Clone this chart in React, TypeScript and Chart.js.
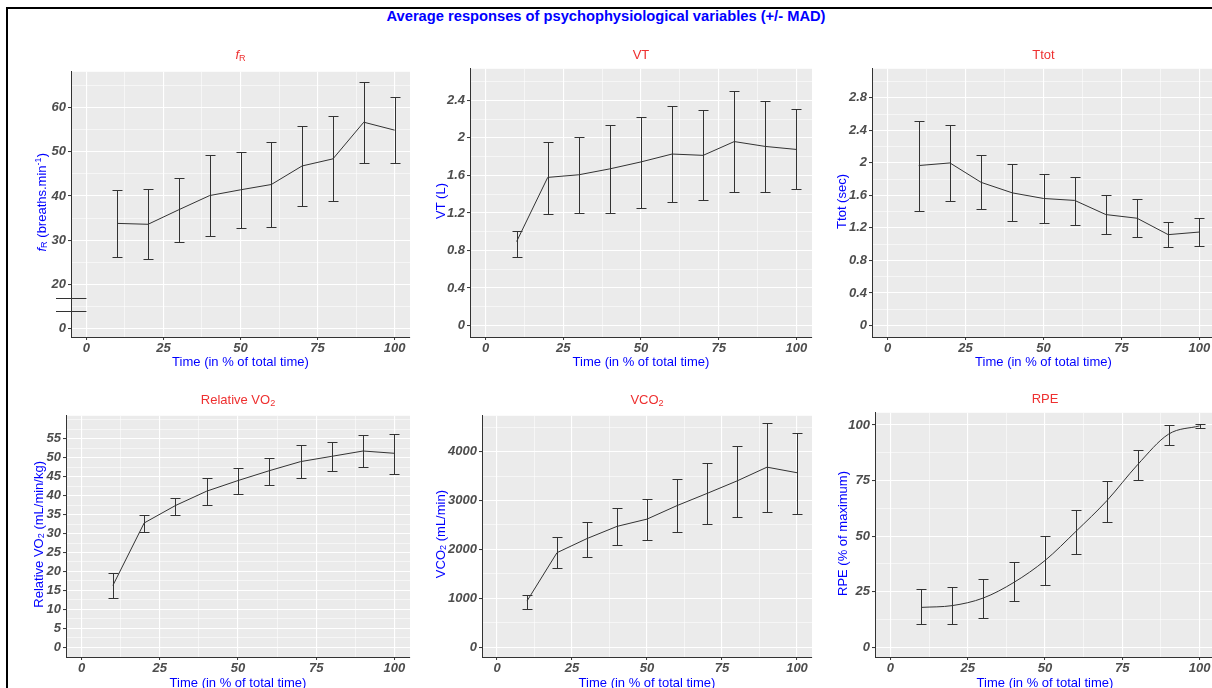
import React, { useEffect, useRef } from 'react';
import { Chart, registerables } from 'chart.js';
Chart.register(...registerables);

// ---------------- DATA ----------------
const timePoints = [10, 20, 30, 40, 50, 60, 70, 80, 90, 100];

const fRMean = [33.8, 33.6, 36.9, 40.1, 41.4, 42.6, 46.8, 48.4, 56.7, 54.9];
const fRUpper = [41.4, 41.6, 44.0, 49.2, 49.9, 52.3, 55.8, 58.0, 65.7, 62.5];
const fRLower = [26.2, 25.7, 29.6, 31.0, 32.8, 32.9, 37.8, 38.8, 47.5, 47.4];
const fRBreakMarks = [17, 14.05];

const vtMean = [0.895, 1.579, 1.607, 1.67, 1.744, 1.828, 1.814, 1.961, 1.909, 1.877];
const vtUpper = [1.01, 1.958, 2.014, 2.14, 2.225, 2.344, 2.298, 2.495, 2.396, 2.309];
const vtLower = [0.733, 1.189, 1.196, 1.196, 1.249, 1.312, 1.337, 1.421, 1.421, 1.453];

const ttotMean = [1.967, 1.999, 1.76, 1.631, 1.562, 1.538, 1.364, 1.319, 1.117, 1.149];
const ttotUpper = [2.509, 2.469, 2.092, 1.983, 1.862, 1.829, 1.599, 1.55, 1.267, 1.319];
const ttotLower = [1.412, 1.534, 1.433, 1.287, 1.259, 1.234, 1.125, 1.085, 0.959, 0.979];

const vo2Mean = [16.3, 32.8, 37.4, 41.2, 44.0, 46.6, 49.0, 50.4, 51.8, 51.2];
const vo2Upper = [19.5, 34.9, 39.4, 44.8, 47.2, 50.0, 53.3, 54.2, 55.9, 56.3];
const vo2Lower = [13.1, 30.3, 35.0, 37.5, 40.5, 42.8, 44.7, 46.4, 47.5, 45.7];

const vco2Mean = [943, 1933, 2222, 2471, 2620, 2896, 3145, 3401, 3683, 3569];
const vco2Upper = [1057, 2249, 2566, 2842, 3030, 3434, 3764, 4121, 4586, 4391];
const vco2Lower = [781, 1623, 1845, 2088, 2195, 2350, 2512, 2673, 2774, 2734];

const rpeMean = [17.9, 18.7, 22.1, 29.2, 39.0, 52.1, 65.9, 82.2, 95.9, 99.6];
const rpeUpper = [26.2, 27.1, 30.7, 38.2, 50.2, 61.8, 74.7, 88.9, 100.1, 100.4];
const rpeLower = [10.2, 10.2, 13.0, 20.6, 28.1, 42.1, 56.4, 75.3, 91.0, 98.7];

// tick values / labels
const xMajorTicks = [0, 25, 50, 75, 100];
const xMajorLabels = ['0', '25', '50', '75', '100'];
const xMinorTicks = [12.5, 37.5, 62.5, 87.5];

const fRMajorTicks = [10, 20, 30, 40, 50, 60];
const fRMajorLabels = ['0', '20', '30', '40', '50', '60'];
const fRMinorTicks = [15, 25, 35, 45, 55, 65];

const vtMajorTicks = [0, 0.4, 0.8, 1.2, 1.6, 2, 2.4];
const vtMajorLabels = ['0', '0.4', '0.8', '1.2', '1.6', '2', '2.4'];
const vtMinorTicks = [0.2, 0.6, 1.0, 1.4, 1.8, 2.2, 2.6];

const ttotMajorTicks = [0, 0.4, 0.8, 1.2, 1.6, 2, 2.4, 2.8];
const ttotMajorLabels = ['0', '0.4', '0.8', '1.2', '1.6', '2', '2.4', '2.8'];
const ttotMinorTicks = [0.2, 0.6, 1.0, 1.4, 1.8, 2.2, 2.6, 3.0];

const vo2MajorTicks = [0, 5, 10, 15, 20, 25, 30, 35, 40, 45, 50, 55];
const vo2MajorLabels = ['0', '5', '10', '15', '20', '25', '30', '35', '40', '45', '50', '55'];
const vo2MinorTicks = [2.5, 7.5, 12.5, 17.5, 22.5, 27.5, 32.5, 37.5, 42.5, 47.5, 52.5, 57.5, 60];

const vco2MajorTicks = [0, 1000, 2000, 3000, 4000];
const vco2MajorLabels = ['0', '1000', '2000', '3000', '4000'];
const vco2MinorTicks = [500, 1500, 2500, 3500, 4500];

const rpeMajorTicks = [0, 25, 50, 75, 100];
const rpeMajorLabels = ['0', '25', '50', '75', '100'];
const rpeMinorTicks = [12.5, 37.5, 62.5, 87.5];

// ---------------- STYLE / LAYOUT ----------------
const FONT = "'Liberation Sans', Arial, Helvetica, sans-serif";
const BLUE = '#0000FF';
const RED = '#EE3030';
const PANEL_BG = '#EBEBEB';
const TICK_COLOR = '#4D4D4D';
const AXIS_COLOR = '#333333';
const AX_W = 60;
const PAD_T = 6;
const PAD_R = 6;
const AX_H = 26;
const LABEL_SIZE = 13;

type PanelCfg = {
  key: string;
  rect: { l: number; t: number; r: number; b: number };
  yMin: number;
  yMax: number;
  mean: number[];
  upper: number[];
  lower: number[];
  yMajor: number[];
  yLabels: string[];
  yMinor: number[];
  smooth?: boolean;
  breaks?: number[];
  title: React.ReactNode;
  yTitle: React.ReactNode;
  titleY: number;
  yTitleX: number;
  xTitleY: number;
};

const Sub = ({ children }: { children: React.ReactNode }) => (
  <sub style={{ fontSize: '0.7em', lineHeight: 0, verticalAlign: '-0.25em' }}>{children}</sub>
);
const Sup = ({ children }: { children: React.ReactNode }) => (
  <sup style={{ fontSize: '0.7em', lineHeight: 0, verticalAlign: '0.45em' }}>{children}</sup>
);

const panels: PanelCfg[] = [
  {
    key: 'fr', rect: { l: 71, t: 68, r: 410, b: 337 }, yMin: 8.1, yMax: 68.1,
    mean: fRMean, upper: fRUpper, lower: fRLower,
    yMajor: fRMajorTicks, yLabels: fRMajorLabels, yMinor: fRMinorTicks, breaks: fRBreakMarks,
    title: (<><i>f</i><Sub>R</Sub></>),
    yTitle: (<><i>f</i><Sub>R</Sub> (breaths.min<Sup>-1</Sup>)</>),
    titleY: 48, yTitleX: 42, xTitleY: 355,
  },
  {
    key: 'vt', rect: { l: 470, t: 65, r: 812, b: 337 }, yMin: -0.123, yMax: 2.737,
    mean: vtMean, upper: vtUpper, lower: vtLower,
    yMajor: vtMajorTicks, yLabels: vtMajorLabels, yMinor: vtMinorTicks,
    title: 'VT', yTitle: 'VT (L)', titleY: 48, yTitleX: 441, xTitleY: 355,
  },
  {
    key: 'ttot', rect: { l: 872, t: 65, r: 1215, b: 337 }, yMin: -0.142, yMax: 3.157,
    mean: ttotMean, upper: ttotUpper, lower: ttotLower,
    yMajor: ttotMajorTicks, yLabels: ttotMajorLabels, yMinor: ttotMinorTicks,
    title: 'Ttot', yTitle: 'Ttot (sec)', titleY: 48, yTitleX: 842, xTitleY: 355,
  },
  {
    key: 'vo2', rect: { l: 66, t: 412, r: 410, b: 657 }, yMin: -2.6, yMax: 61.1,
    mean: vo2Mean, upper: vo2Upper, lower: vo2Lower,
    yMajor: vo2MajorTicks, yLabels: vo2MajorLabels, yMinor: vo2MinorTicks,
    title: (<>Relative VO<Sub>2</Sub></>), yTitle: (<>Relative VO<Sub>2</Sub> (mL/min/kg)</>),
    titleY: 392.5, yTitleX: 39, xTitleY: 675.5,
  },
  {
    key: 'vco2', rect: { l: 482, t: 412, r: 812, b: 657 }, yMin: -202, yMax: 4734,
    mean: vco2Mean, upper: vco2Upper, lower: vco2Lower,
    yMajor: vco2MajorTicks, yLabels: vco2MajorLabels, yMinor: vco2MinorTicks,
    title: (<>VCO<Sub>2</Sub></>), yTitle: (<>VCO<Sub>2</Sub> (mL/min)</>),
    titleY: 392.5, yTitleX: 441, xTitleY: 675.5,
  },
  {
    key: 'rpe', rect: { l: 875, t: 409, r: 1215, b: 657 }, yMin: -4.44, yMax: 105.5,
    mean: rpeMean, upper: rpeUpper, lower: rpeLower, smooth: true,
    yMajor: rpeMajorTicks, yLabels: rpeMajorLabels, yMinor: rpeMinorTicks,
    title: 'RPE', yTitle: 'RPE (% of maximum)', titleY: 391.5, yTitleX: 843, xTitleY: 675.5,
  },
];

const near = (a: number, b: number) => Math.abs(a - b) < 1e-6;
const findIdx = (arr: number[], v: number) => arr.findIndex((a) => near(a, v));

function ChartPanel({ cfg }: { cfg: PanelCfg }) {
  const ref = useRef<HTMLCanvasElement | null>(null);
  const { l, t, r, b } = cfg.rect;
  const width = r - l + AX_W + PAD_R;
  const height = b - t + PAD_T + AX_H;

  useEffect(() => {
    if (!ref.current) return;
    const tickFont = { family: FONT, size: LABEL_SIZE, style: 'italic' as const, weight: 'bold' as const };

    const bgPlugin = {
      id: 'bg',
      beforeDraw(chart: any) {
        const { ctx, chartArea } = chart;
        ctx.save();
        ctx.fillStyle = PANEL_BG;
        ctx.fillRect(chartArea.left, chartArea.top, chartArea.right - chartArea.left, chartArea.bottom - chartArea.top);
        ctx.restore();
      },
    };

    const errPlugin = {
      id: 'errbars',
      afterDatasetsDraw(chart: any) {
        const { ctx } = chart;
        const xs = chart.scales.x;
        const ys = chart.scales.y;
        ctx.save();
        ctx.strokeStyle = AXIS_COLOR;
        ctx.lineWidth = 1;
        timePoints.forEach((tp, i) => {
          const px = Math.round(xs.getPixelForValue(tp)) + 0.5;
          const pu = Math.round(ys.getPixelForValue(cfg.upper[i])) + 0.5;
          const pl = Math.round(ys.getPixelForValue(cfg.lower[i])) + 0.5;
          ctx.beginPath();
          ctx.moveTo(px, pu);
          ctx.lineTo(px, pl);
          ctx.moveTo(px - 5, pu);
          ctx.lineTo(px + 5, pu);
          ctx.moveTo(px - 5, pl);
          ctx.lineTo(px + 5, pl);
          ctx.stroke();
        });
        if (cfg.breaks) {
          const x0 = xs.getPixelForValue(0);
          cfg.breaks.forEach((bv) => {
            const py = Math.round(ys.getPixelForValue(bv)) + 0.5;
            ctx.beginPath();
            ctx.moveTo(chart.chartArea.left - 15, py);
            ctx.lineTo(x0, py);
            ctx.stroke();
          });
        }
        ctx.restore();
      },
    };

    const makeAxis = (major: number[], labels: string[], minor: number[], min: number, max: number, isX: boolean) => ({
      type: 'linear' as const,
      min,
      max,
      afterFit: (s: any) => {
        if (isX) s.height = AX_H;
        else s.width = AX_W;
      },
      afterBuildTicks: (axis: any) => {
        axis.ticks = [...major, ...minor].sort((a, c) => a - c).map((v) => ({ value: v }));
      },
      ticks: {
        autoSkip: false,
        maxRotation: 0,
        minRotation: 0,
        padding: isX ? 1 : 2,
        font: tickFont,
        color: TICK_COLOR,
        callback: (v: any) => {
          const i = findIdx(major, Number(v));
          return i >= 0 ? labels[i] : '';
        },
      },
      grid: {
        drawTicks: true,
        tickLength: 3,
        color: '#FFFFFF',
        lineWidth: (ctx: any) => (ctx.tick && findIdx(major, ctx.tick.value) >= 0 ? 1.1 : 0.55),
        tickColor: (ctx: any) => (ctx.tick && findIdx(major, ctx.tick.value) >= 0 ? AXIS_COLOR : 'rgba(0,0,0,0)'),
        tickWidth: 1,
      },
      border: { display: true, color: AXIS_COLOR, width: 1 },
    });

    const chart = new Chart(ref.current, {
      type: 'line',
      data: {
        datasets: [
          {
            data: timePoints.map((tp, i) => ({ x: tp, y: cfg.mean[i] })),
            borderColor: '#333333',
            borderWidth: 1,
            pointRadius: 0,
            fill: false,
            tension: 0,
            cubicInterpolationMode: cfg.smooth ? 'monotone' : 'default',
          } as any,
        ],
      },
      options: {
        responsive: false,
        maintainAspectRatio: false,
        animation: false,
        devicePixelRatio: 1,
        layout: { padding: { top: PAD_T, right: PAD_R, left: 0, bottom: 0 } },
        plugins: { legend: { display: false }, tooltip: { enabled: false }, title: { display: false } },
        scales: {
          x: makeAxis(xMajorTicks, xMajorLabels, xMinorTicks, -5, 105, true),
          y: makeAxis(cfg.yMajor, cfg.yLabels, cfg.yMinor, cfg.yMin, cfg.yMax, false),
        } as any,
      },
      plugins: [bgPlugin, errPlugin],
    });
    return () => chart.destroy();
  }, [cfg]);

  const cx = (l + r) / 2;
  const textBase: React.CSSProperties = {
    position: 'absolute',
    fontFamily: FONT,
    fontSize: 13,
    lineHeight: 1,
    whiteSpace: 'nowrap',
  };

  return (
    <>
      <canvas
        ref={ref}
        width={width}
        height={height}
        style={{ position: 'absolute', left: l - AX_W, top: t - PAD_T, width, height }}
      />
      <div style={{ ...textBase, left: cx, top: cfg.titleY, transform: 'translateX(-50%)', color: RED }}>{cfg.title}</div>
      <div style={{ ...textBase, left: cx, top: cfg.xTitleY, transform: 'translateX(-50%)', color: BLUE }}>
        Time (in % of total time)
      </div>
      <div
        style={{
          position: 'absolute',
          left: Math.round(cfg.yTitleX - 7),
          top: t,
          width: 14,
          height: b - t,
          display: 'flex',
          alignItems: 'center',
          justifyContent: 'center',
        }}
      >
        <span
          style={{
            fontFamily: FONT,
            fontSize: 13,
            lineHeight: '14px',
            whiteSpace: 'nowrap',
            color: BLUE,
            writingMode: 'vertical-rl',
            transform: 'rotate(180deg)',
          }}
        >
          {cfg.yTitle}
        </span>
      </div>
    </>
  );
}

export default function App() {
  return (
    <div
      style={{
        position: 'absolute',
        left: 0,
        top: 0,
        width: 1212,
        height: 688,
        overflow: 'hidden',
        background: '#FFFFFF',
      }}
    >
      <div
        style={{
          position: 'absolute',
          left: 6,
          top: 7,
          width: 1400,
          height: 900,
          border: '2px solid #000000',
          boxSizing: 'border-box',
        }}
      />
      <div
        style={{
          position: 'absolute',
          left: 606,
          top: 9,
          transform: 'translateX(-50%)',
          fontFamily: FONT,
          fontSize: 14.7,
          fontWeight: 'bold',
          lineHeight: 1,
          color: BLUE,
          whiteSpace: 'nowrap',
        }}
      >
        Average responses of psychophysiological variables (+/- MAD)
      </div>
      {panels.map((p) => (
        <ChartPanel key={p.key} cfg={p} />
      ))}
    </div>
  );
}
